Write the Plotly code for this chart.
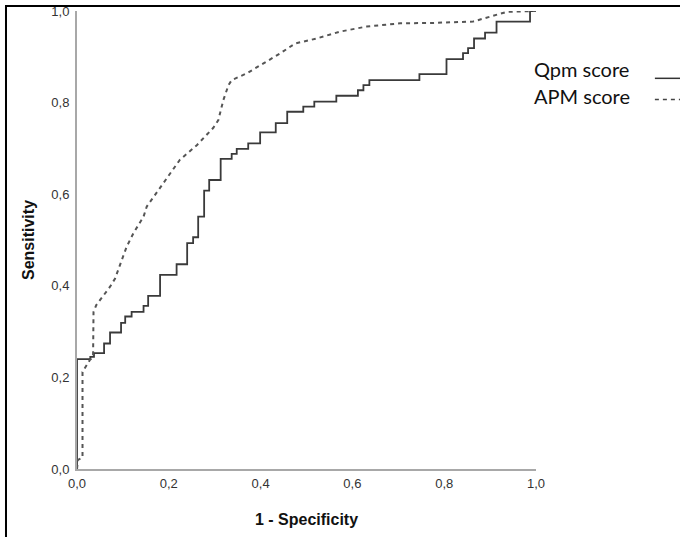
import plotly.graph_objects as go

# Qpm score ROC (step curve), corner points: (1 - specificity, sensitivity)
qpm_fpr = [0.0, 0.0, 0.029, 0.037, 0.059, 0.072, 0.096, 0.105, 0.119, 0.145, 0.155,
           0.181, 0.217, 0.240, 0.253, 0.264, 0.277, 0.288, 0.313, 0.337, 0.348,
           0.373, 0.399, 0.433, 0.458, 0.493, 0.517, 0.565, 0.612, 0.624, 0.637,
           0.746, 0.805, 0.841, 0.852, 0.865, 0.889, 0.914, 0.987, 1.0]
qpm_tpr = [0.0, 0.240, 0.245, 0.253, 0.274, 0.298, 0.319, 0.333, 0.343, 0.356, 0.378,
           0.424, 0.447, 0.493, 0.506, 0.551, 0.608, 0.631, 0.677, 0.688, 0.699,
           0.711, 0.735, 0.755, 0.780, 0.791, 0.802, 0.815, 0.827, 0.838, 0.849,
           0.862, 0.895, 0.908, 0.919, 0.940, 0.953, 0.977, 1.0, 1.0]

# APM score ROC (dashed)
apm_fpr = [0.0, 0.002, 0.012, 0.012, 0.028, 0.035, 0.036, 0.042, 0.072, 0.083, 0.108,
           0.123, 0.145, 0.152, 0.188, 0.224, 0.261, 0.297, 0.308, 0.319, 0.330,
           0.337, 0.370, 0.413, 0.442, 0.475, 0.522, 0.573, 0.631, 0.704, 0.776,
           0.863, 0.900, 0.936, 1.0]
apm_tpr = [0.0, 0.020, 0.025, 0.212, 0.238, 0.245, 0.343, 0.358, 0.398, 0.416, 0.485,
           0.515, 0.551, 0.573, 0.624, 0.675, 0.707, 0.745, 0.762, 0.806, 0.838,
           0.849, 0.864, 0.889, 0.907, 0.929, 0.940, 0.955, 0.966, 0.973, 0.974,
           0.977, 0.987, 0.998, 1.0]

tick_vals = [0.0, 0.2, 0.4, 0.6, 0.8, 1.0]
tick_text = ["0,0", "0,2", "0,4", "0,6", "0,8", "1,0"]

fig = go.Figure()
fig.add_trace(go.Scatter(x=qpm_fpr, y=qpm_tpr, mode="lines", name="Qpm score",
                         line=dict(color="#3a3a3a", width=1.8, shape="hv"),
                         cliponaxis=False, showlegend=False))
fig.add_trace(go.Scatter(x=apm_fpr, y=apm_tpr, mode="lines", name="APM score",
                         line=dict(color="#555555", width=2, dash="4px,4px"),
                         cliponaxis=False, showlegend=False))

axis_common = dict(range=[0, 1], tickvals=tick_vals, ticktext=tick_text,
                   showgrid=False, zeroline=False, showline=True, automargin=False,
                   linecolor="#a8a8a8", linewidth=2, ticks="",
                   tickfont=dict(family="Liberation Sans", size=13, color="#333333"))

fig.update_layout(
    width=680, height=537,
    margin=dict(l=77, r=144, t=11, b=68),
    paper_bgcolor="white", plot_bgcolor="white",
    xaxis=dict(**axis_common, ticklabelstandoff=1,
               title=dict(text="<b>1 - Specificity</b>", standoff=24,
                          font=dict(family="Liberation Sans", size=16, color="#111111"))),
    yaxis=dict(**axis_common, ticklabelstandoff=3,
               title=dict(text="<b>Sensitivity</b>", standoff=13,
                          font=dict(family="Liberation Sans", size=16, color="#111111"))),
)

# legend (text left of line sample)
for label, yp in [("Qpm score", 0.873), ("APM score", 0.815)]:
    fig.add_annotation(xref="paper", yref="paper", x=0.992, y=yp, text=label,
                       showarrow=False, xanchor="left", yanchor="middle",
                       font=dict(family="Lato", size=20, color="#111111"))
fig.add_shape(type="line", xref="paper", yref="paper", x0=1.259, x1=1.314,
              y0=0.853, y1=0.853, line=dict(color="#333333", width=1.5))
fig.add_shape(type="line", xref="paper", yref="paper", x0=1.259, x1=1.314,
              y0=0.807, y1=0.807, line=dict(color="#444444", width=1.5, dash="4px,4px"))

# outer frame (left and top)
fig.add_shape(type="line", xref="paper", yref="paper", x0=-0.1547, x1=-0.1547,
              y0=1.0109, y1=-0.16, line=dict(color="black", width=2))
for xa, xb in [(-0.1547, 0.5), (0.5, 1.32)]:
    fig.add_shape(type="line", xref="paper", yref="paper", x0=xa, x1=xb,
                  y0=1.0109, y1=1.0109, line=dict(color="black", width=2))

post = (
    "document.documentElement.style.overflow='hidden';"
    "document.body.style.margin='0';document.body.style.padding='0';"
    "document.body.style.overflow='hidden';"
    "var f=document.createElement('div');"
    "f.style.cssText='position:absolute;left:5px;top:5px;width:720px;height:600px;"
    "border-left:2px solid #000;border-top:2px solid #000;pointer-events:none;';"
    "document.body.appendChild(f);"
)
fig.write_html("out.html", config={"displayModeBar": False}, post_script=post)
